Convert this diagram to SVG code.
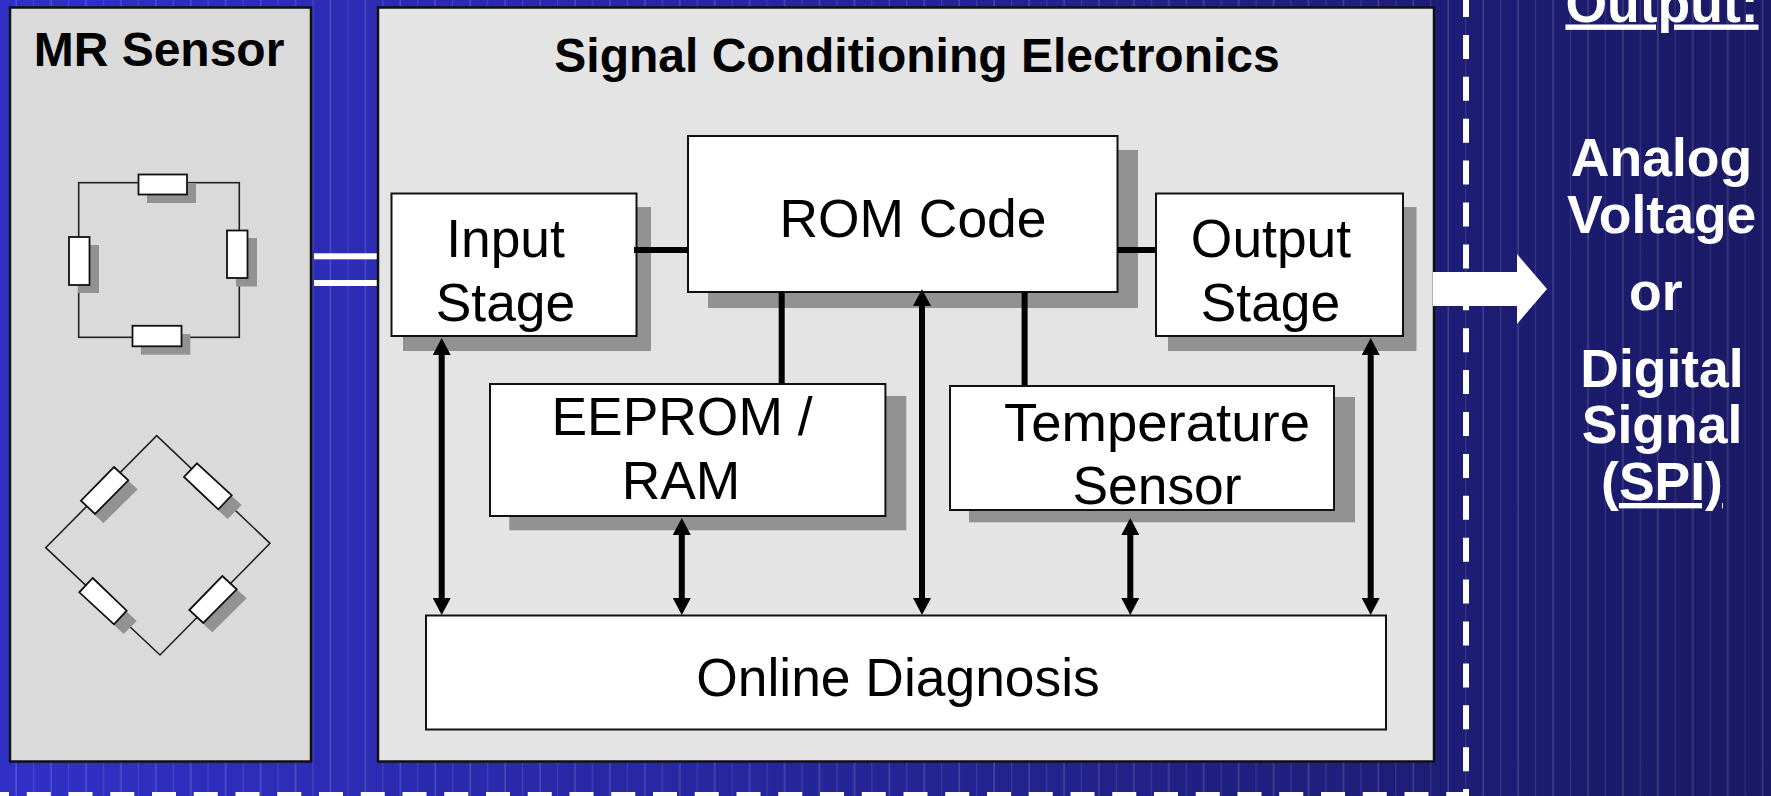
<svg xmlns="http://www.w3.org/2000/svg" width="1771" height="796" viewBox="0 0 1771 796">
<style>
text{font-family:"Liberation Sans",Arial,sans-serif}
.t{font-size:53.4px;fill:#000;text-anchor:middle}
.h{font-size:48px;font-weight:bold;fill:#000;text-anchor:middle}
.w{font-size:53.5px;font-weight:bold;fill:#fff;text-anchor:middle}
.box{fill:#fff;stroke:#111;stroke-width:2}
.sh{fill:#929292}
.panel{stroke:#111;stroke-width:2.5}
.wire{fill:none;stroke:#222;stroke-width:1.6}
.rs{fill:#fff;stroke:#111;stroke-width:1.8}
.stub{stroke:#000;stroke-width:6;fill:none}
.arr{stroke:#000;stroke-width:6;fill:none;marker-start:url(#ah);marker-end:url(#ah)}
</style>
<defs>
<linearGradient id="bg" x1="0" y1="0" x2="1" y2="0"><stop offset="0" stop-color="#3030c8"/><stop offset="1" stop-color="#191964"/></linearGradient>
<pattern id="pin" width="34.93" height="796" patternUnits="userSpaceOnUse">
<rect x="15.6" y="0" width="1" height="796" fill="#fff" fill-opacity=".24"/>
<rect x="33.1" y="0" width="1" height="796" fill="#fff" fill-opacity=".13"/>
</pattern>
<marker id="ah" viewBox="0 0 17 18" refX="0" refY="9" markerWidth="17" markerHeight="18" markerUnits="userSpaceOnUse" orient="auto-start-reverse"><path d="M0 0L17 9L0 18Z" fill="#000"/></marker>
</defs>
<g id="background">
<rect width="1771" height="796" fill="url(#bg)"/>
<rect width="1771" height="796" fill="url(#pin)"/>
<path d="M1466 -7V796" fill="none" stroke="#fff" stroke-width="6" stroke-dasharray="24 17.9"/>
<path d="M-15 795H1469" fill="none" stroke="#fff" stroke-width="6" stroke-dasharray="24 17.75"/>
</g>
<g id="mr-sensor">
<rect class="panel" x="10" y="7.5" width="301" height="754" fill="#dadada"/>
<text class="h" x="159" y="65.5">MR Sensor</text>
<g id="resistor-ring">
<rect class="wire" x="78.7" y="182.7" width="160.6" height="154.6"/>
<rect class="sh" x="147" y="183" width="49" height="20"/><rect class="rs" x="138.5" y="174.5" width="48.5" height="20"/>
<rect class="sh" x="78" y="245" width="21" height="48"/><rect class="rs" x="69" y="237" width="20.500" height="48"/>
<rect class="sh" x="236" y="238" width="21" height="48.500"/><rect class="rs" x="227" y="230.500" width="20.500" height="47.500"/>
<rect class="sh" x="141" y="334" width="49.300" height="20.700"/><rect class="rs" x="132.500" y="325.800" width="49" height="20.500"/>
</g>
<g id="resistor-bridge">
<path class="wire" d="M156.700 435.700L270 543.300L160 655L45.700 547.700Z"/>
<path class="sh" d="M123 476L137.700 489.300L103.300 523.300L90 510Z"/><path class="rs" d="M114 467L128.300 480.300L95 514L81 500.700Z"/>
<path class="sh" d="M206 473L241.700 505L227.700 519L193 487Z"/><path class="rs" d="M197 463.300L231.700 495.300L218.300 509.300L184 477Z"/>
<path class="sh" d="M102 588L136.700 621L123.700 634L89 602Z"/><path class="rs" d="M92.700 578L126.700 610.700L114 624.300L79.300 592.300Z"/>
<path class="sh" d="M232 585L246.700 598.300L212.300 632.300L198 619Z"/><path class="rs" d="M222.300 576L236.700 589.300L203.300 623L189.300 610Z"/>
</g>
</g>
<g id="link-double" fill="#fff">
<rect x="314" y="253.300" width="64" height="6"/>
<rect x="314" y="280" width="64" height="6"/>
</g>
<g id="electronics-panel">
<rect class="panel" x="378" y="7.500" width="1056" height="754" fill="#e4e4e4"/>
<text class="h" x="917" y="71.500">Signal Conditioning Electronics</text>
</g>
<g id="shadows">
<rect class="sh" x="403" y="207" width="248" height="144"/>
<rect class="sh" x="708" y="150" width="430" height="158"/>
<rect class="sh" x="1168" y="207" width="248.500" height="144"/>
<rect class="sh" x="509.300" y="396" width="397" height="134.300"/>
<rect class="sh" x="969" y="397" width="386" height="125.300"/>
</g>
<g id="rom-code">
<rect class="box" x="688" y="136" width="429.500" height="156"/>
<text class="t" x="913" y="236.500">ROM Code</text>
</g>
<g id="input-stage">
<rect class="box" x="391.500" y="193.500" width="245" height="142.500"/>
<text class="t" x="505.500" y="256.500">Input</text>
<text class="t" x="505.500" y="320.500">Stage</text>
</g>
<g id="output-stage">
<rect class="box" x="1156" y="193.500" width="247" height="142.500"/>
<text class="t" x="1271" y="256.500">Output</text>
<text class="t" x="1270.500" y="320.500">Stage</text>
</g>
<g id="eeprom-ram">
<rect class="box" x="490" y="384" width="395.400" height="132"/>
<text class="t" x="682" y="435.300">EEPROM /</text>
<text class="t" x="681" y="499">RAM</text>
</g>
<g id="temperature-sensor">
<rect class="box" x="950" y="386" width="384" height="124"/>
<text class="t" x="1157" y="440.800" style="font-size:54.5px">Temperature</text>
<text class="t" x="1157" y="504">Sensor</text>
</g>
<g id="online-diagnosis">
<rect class="box" x="426" y="615.500" width="960" height="114"/>
<text class="t" x="898" y="696">Online Diagnosis</text>
</g>
<g id="connectors">
<path class="stub" d="M634 250H688"/>
<path class="stub" d="M1118 250H1155"/>
<path class="stub" d="M781.700 292V383"/>
<path class="stub" d="M1024.600 292V385"/>
<path class="arr" d="M441.700 355V598"/>
<path class="arr" d="M681.800 535V598"/>
<path class="arr" d="M922 306V598"/>
<path class="arr" d="M1130.300 535V598"/>
<path class="arr" d="M1370.700 355V598"/>
</g>
<g id="output-arrow"><path d="M1433 272H1517V254L1547 289L1517 324V306H1433Z" fill="#fff"/></g>
<g id="output-label">
<text class="w" x="1662" y="21.500" text-decoration="underline">Output:</text>
<text class="w" x="1661.500" y="176">Analog</text>
<text class="w" x="1661.700" y="233.300">Voltage</text>
<text class="w" x="1655.800" y="309.500">or</text>
<text class="w" x="1662" y="386.500">Digital</text>
<text class="w" x="1662" y="443">Signal</text>
<text class="w" x="1662" y="500">(<tspan text-decoration="underline">SPI)</tspan></text>
</g>
</svg>
